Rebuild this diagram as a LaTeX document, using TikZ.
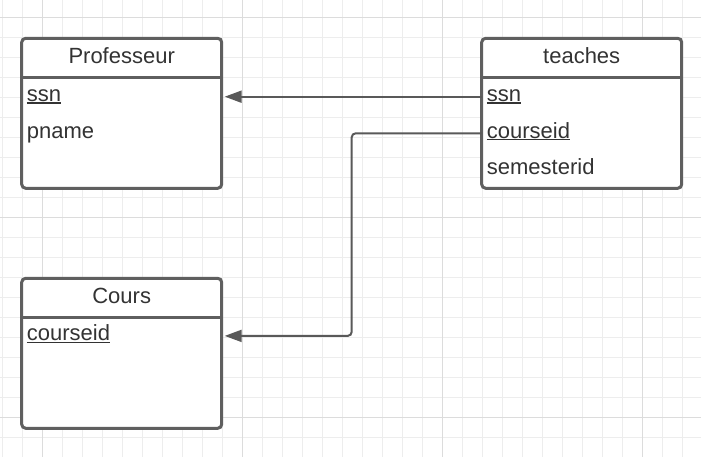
\documentclass[tikz,border=0pt]{standalone}
\usepackage{fontspec}
\setmainfont{Liberation Sans}
\usetikzlibrary{arrows.meta,positioning}

\definecolor{boxline}{HTML}{5F5F5F}
\definecolor{fkline}{HTML}{595959}
\definecolor{txt}{HTML}{333333}
\definecolor{gridminor}{HTML}{EDEDED}
\definecolor{gridmajor}{HTML}{DCDCDC}

% underlined key attribute
\newcommand{\keyattr}[1]{\setbox0\hbox{#1}\rlap{\rule[-2.2pt]{\wd0}{1.4pt}}\box0}

\begin{document}
\begin{tikzpicture}[x=1pt,y=-1pt,
    entity/.style={draw=boxline, line width=3pt, rounded corners=4pt, fill=white,
        minimum width=200pt, minimum height=150pt, inner sep=0pt, outer sep=0pt},
    title/.style={text=txt, font=\fontsize{22}{26}\selectfont, anchor=base, inner sep=0pt},
    attr/.style={text=txt, font=\fontsize{22}{26}\selectfont, anchor=base west,
        inner sep=0pt, text height=14pt, text depth=4pt},
    fk/.style={draw=fkline, line width=2pt, -{Triangle[length=17pt,width=12pt]}, shorten >=3pt}]

    \useasboundingbox (0,0) rectangle (701,457);
    \fill[white] (0,0) rectangle (701,457);

    % grid
    \foreach \i in {0,...,34}
        \draw[gridminor, line width=1pt] ({2.7+20*\i},0) -- ++(0,457);
    \foreach \i in {0,...,22}
        \draw[gridminor, line width=1pt] (0,{17.3+20*\i}) -- ++(701,0);
    \foreach \x in {42.7,242.7,442.7,642.7}
        \draw[gridmajor, line width=1pt] (\x,0) -- ++(0,457);
    \foreach \y in {17.3,217.3,417.3}
        \draw[gridmajor, line width=1pt] (0,\y) -- ++(701,0);

    % entities
    \node[entity] (prof) at (121.7,113.3) {};
    \node[entity] (teaches) at (581.7,113.3) {};
    \node[entity] (cours) at (121.7,353.3) {};

    \foreach \e in {prof,teaches,cours}
        \draw[boxline, line width=3pt] ([yshift=-39.5pt]\e.north west) -- ([yshift=-39.5pt]\e.north east);

    \node[title] (prof-title) at ([yshift=-25pt]prof.north) {Professeur};
    \node[title] (teaches-title) at ([yshift=-25pt]teaches.north) {teaches};
    \node[title] (cours-title) at ([yshift=-25pt]cours.north) {Cours};

    % attributes
    \node[attr] (p-ssn) at ([xshift=5pt,yshift=-63.4pt]prof.north west) {\keyattr{ssn}};
    \node[attr] (p-name) at ([xshift=5pt,yshift=-99.8pt]prof.north west) {pname};

    \node[attr] (t-ssn) at ([xshift=5pt,yshift=-63.4pt]teaches.north west) {\keyattr{ssn}};
    \node[attr] (t-cid) at ([xshift=5pt,yshift=-100pt]teaches.north west) {\keyattr{courseid}};
    \node[attr] (t-sem) at ([xshift=5pt,yshift=-136pt]teaches.north west) {semesterid};

    \node[attr] (c-cid) at ([xshift=5pt,yshift=-62.6pt]cours.north west) {\keyattr{courseid}};

    % foreign keys
    \coordinate (bend) at (351.7,0);
    \draw[fk] (t-ssn.west -| teaches.west) -- (t-ssn.west -| prof.east);
    \draw[fk, rounded corners=4pt] (t-cid.west -| teaches.west) -| (bend |- c-cid.west) -- (c-cid.west -| cours.east);
\end{tikzpicture}
\end{document}
